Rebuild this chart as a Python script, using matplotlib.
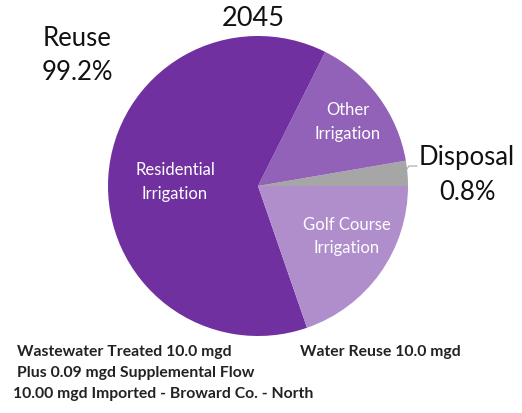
import matplotlib
matplotlib.use("Agg")
import matplotlib.pyplot as plt
from matplotlib.lines import Line2D

plt.rcParams['font.family'] = ['Lato', 'DejaVu Sans']

# Data (slice sizes as drawn)
categories = ["Disposal", "Other\nIrrigation", "Residential\nIrrigation", "Golf Course\nIrrigation"]
values = [2.7, 14.9, 62.7, 19.7]
colors = ["#A6A6A6", "#9262B8", "#7030A0", "#B08ECC"]
title = "2045"
reuse_label = "Reuse\n99.2%"
disposal_label = "Disposal\n0.8%"
notes_left = ["Wastewater Treated 10.0 mgd", "Plus 0.09 mgd Supplemental Flow",
              "10.00 mgd Imported - Broward Co. - North"]
note_right = "Water Reuse 10.0 mgd"

W, H = 522, 413
fig = plt.figure(figsize=(W / 100, H / 100), dpi=100)

def fx(x):
    return x / W

def fy(y):
    return 1 - y / H

def lines(text, x, y0, gap, **kw):
    for i, ln in enumerate(text.split("\n")):
        fig.text(fx(x), fy(y0 + i * gap), ln, ha="center", va="center", **kw)

cx, cy, r = 258, 186, 150
ax = fig.add_axes([fx(cx - r), fy(cy + r), 2 * r / W, 2 * r / H])
wedges, _ = ax.pie(values, colors=colors, startangle=0, counterclock=True,
                   radius=1, wedgeprops=dict(linewidth=0))
ax.set_xlim(-1, 1)
ax.set_ylim(-1, 1)
ax.set_aspect('equal')
ax.axis('off')

# inside labels
inner_pos = [None, (348, 110), (175, 170), (347, 225)]
for lab, pos in zip(categories, inner_pos):
    if pos is None:
        continue
    lines(lab, pos[0], pos[1], 23.5, color="white", fontsize=12)

lines(title, 253, 19, 0, fontsize=19.5, color="#111111")
lines(reuse_label, 77, 39, 34, fontsize=18.5, color="#111111")
lines(disposal_label, 467, 157, 35, fontsize=18.5, color="#111111")

# leader line for disposal
fig.add_artist(Line2D([fx(404), fx(409), fx(417)], [fy(173), fy(166), fy(166)],
                      color="#A6A6A6", linewidth=0.8))

ys = [352, 373, 394]
xs = [17, 17, 13]
for t, x, y in zip(notes_left, xs, ys):
    fig.text(fx(x), fy(y), t, fontsize=11.3, fontweight="bold", ha="left", va="center",
             color="#222222")
fig.text(fx(300), fy(352), note_right, fontsize=11.3, fontweight="bold", ha="left",
         va="center", color="#222222")

fig.savefig("out.png", dpi=100)
